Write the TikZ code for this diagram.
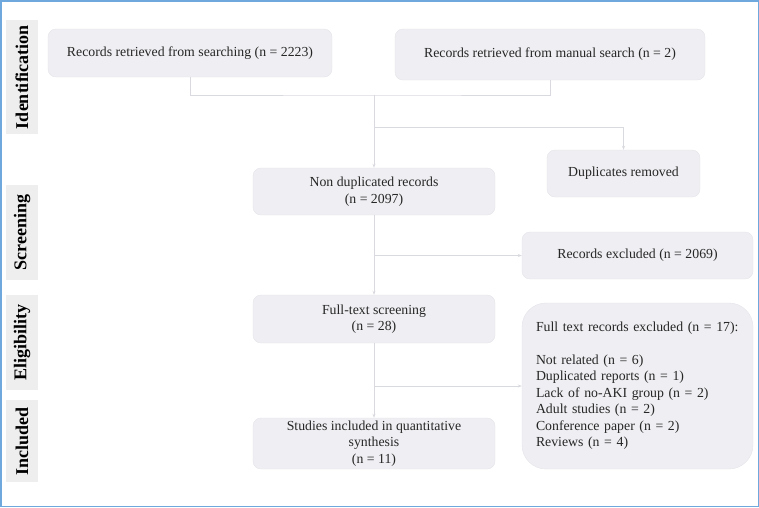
\documentclass[tikz,border=0pt]{standalone}
\usepackage{fontspec}
\setmainfont{Liberation Serif}
\usetikzlibrary{arrows.meta}

\definecolor{boxfill}{HTML}{EFEFF3}
\definecolor{boxline}{HTML}{E3E3EA}
\definecolor{linkgray}{HTML}{D9D9E0}
\definecolor{phasefill}{HTML}{EEEEEE}
\definecolor{frameblue}{HTML}{6FA8DC}

\begin{document}
\begin{tikzpicture}[x=1pt, y=-1pt,
  box/.style={draw=boxline, fill=boxfill, rounded corners=8pt, align=center,
    inner sep=0pt, font=\fontsize{13.8}{16.5}\selectfont, text=black!85},
  phase/.style={fill=phasefill, rotate=90, inner sep=0pt,
    font=\fontsize{18}{20}\selectfont\bfseries},
  link/.style={draw=linkgray, line width=0.8pt},
  flow/.style={link, -{Stealth[length=4pt, width=3pt]}}]
  \useasboundingbox (0,0) rectangle (759,507);
  \draw[frameblue, line width=1.5pt] (0.75,0.75) rectangle (758.25,506.25);

  % phase labels
  \node[phase, minimum width=114pt, minimum height=32pt] (ident) at (22,77) {Identification};
  \node[phase, minimum width=95pt, minimum height=32pt] (screen) at (22,232.5) {Screening};
  \node[phase, minimum width=95pt, minimum height=32pt] (elig) at (22,342.5) {Eligibility};
  \node[phase, minimum width=82pt, minimum height=32pt] (incl) at (22,441) {Included};

  % boxes
  \node[box, minimum width=284pt, minimum height=48pt] (search) at (190,53)
    {Records retrieved from searching (n = 2223)};
  \node[box, minimum width=310pt, minimum height=51pt] (manual) at (550,54.5)
    {Records retrieved from manual search (n = 2)};
  \node[box, minimum width=153pt, minimum height=47pt] (dupl) at (623.5,173.5)
    {Duplicates removed};
  \node[box, minimum width=242pt, minimum height=47pt] (nondup) at (374,191.5)
    {Non duplicated records\\(n = 2097)};
  \node[box, minimum width=231pt, minimum height=47pt] (recexcl) at (637.5,255.5)
    {Records excluded (n = 2069)};
  \node[box, minimum width=242pt, minimum height=48pt] (fulltext) at (374,319)
    {Full-text screening\\(n = 28)};
  \node[box, minimum width=231pt, minimum height=166pt, rounded corners=24pt,
    align=left, text width=203pt] (ftexcl) at (637.5,386)
    {Full text records excluded (n = 17):\\[16pt]
     Not related (n = 6)\\
     Duplicated reports (n = 1)\\
     Lack of no-AKI group (n = 2)\\
     Adult studies (n = 2)\\
     Conference paper (n = 2)\\
     Reviews (n = 4)};
  \node[box, minimum width=242pt, minimum height=51pt] (studies) at (374,443.5)
    {Studies included in quantitative\\synthesis\\(n = 11)};

  % connectors
  \coordinate (merge) at (374,95);
  \coordinate (split) at (374,127);
  \draw[link] (search.south) |- (merge) -| (manual.south);
  \draw[flow] (merge) -- (nondup.north);
  \draw[flow] (split) -| (dupl.north);
  \draw[flow] (nondup.south) -- (fulltext.north);
  \draw[flow] (nondup.south |- recexcl.west) -- (recexcl.west);
  \draw[flow] (fulltext.south) -- (studies.north);
  \draw[flow] (fulltext.south |- ftexcl.west) -- (ftexcl.west);
\end{tikzpicture}
\end{document}
